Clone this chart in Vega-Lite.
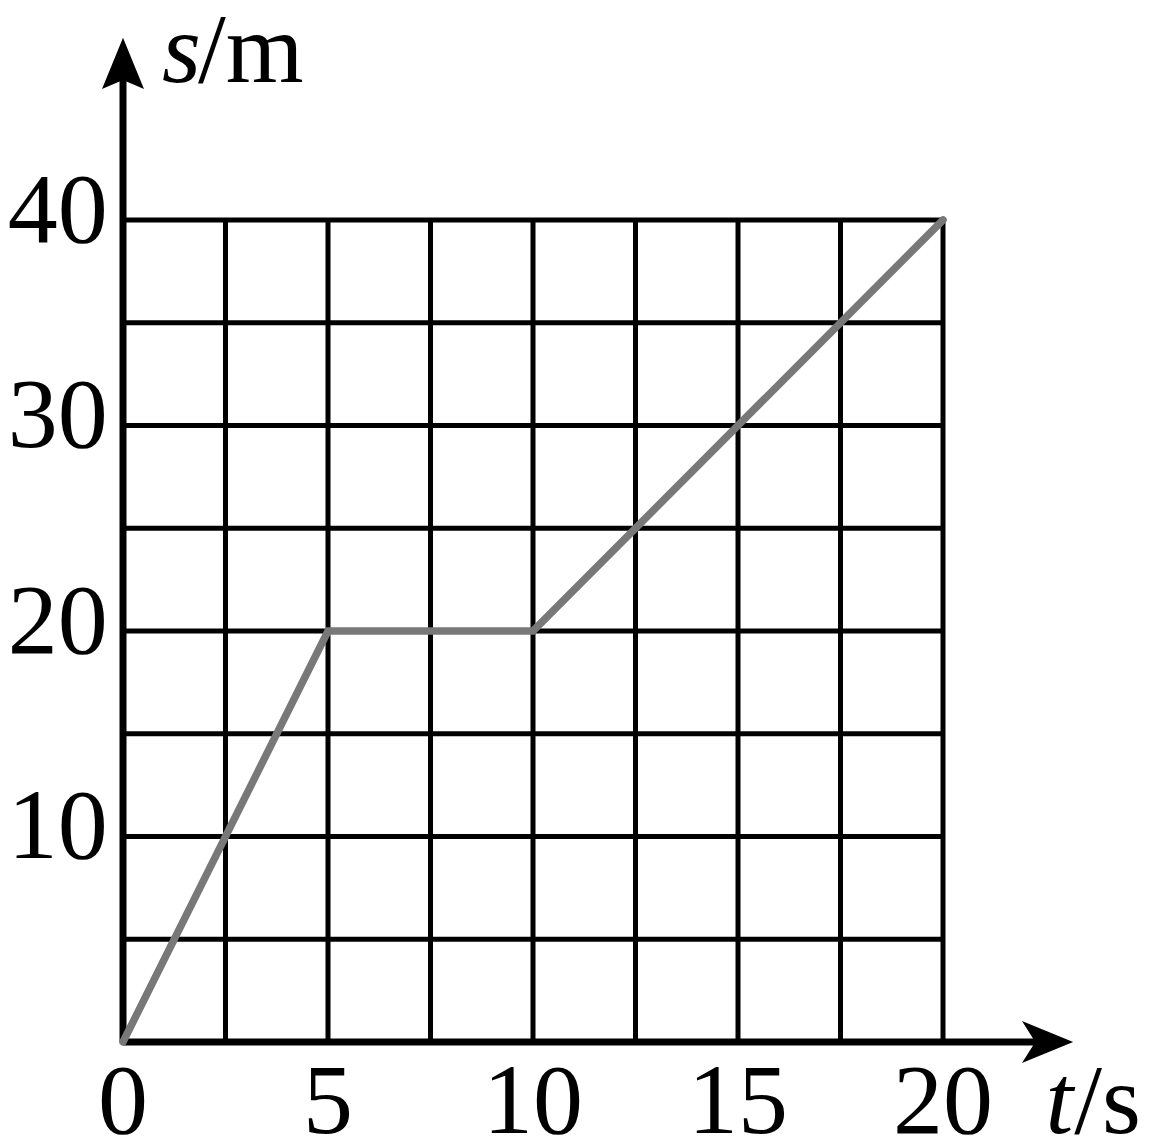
{
  "$schema": "https://vega.github.io/schema/vega-lite/v6.json",
  "width": 950,
  "height": 1004,
  "autosize": {"type": "none"},
  "padding": {"left": 123, "top": 38, "right": 77, "bottom": 106},
  "background": "white",
  "config": {"view": {"stroke": null}, "text": {"font": "'Liberation Serif', 'Times New Roman', Times, serif"}},
  "datasets": {
    "grid": [
      {"x": 2.5, "y": 0, "x2": 2.5, "y2": 40},
      {"x": 5, "y": 0, "x2": 5, "y2": 40},
      {"x": 7.5, "y": 0, "x2": 7.5, "y2": 40},
      {"x": 10, "y": 0, "x2": 10, "y2": 40},
      {"x": 12.5, "y": 0, "x2": 12.5, "y2": 40},
      {"x": 15, "y": 0, "x2": 15, "y2": 40},
      {"x": 17.5, "y": 0, "x2": 17.5, "y2": 40},
      {"x": 20, "y": 0, "x2": 20, "y2": 40},
      {"x": 0, "y": 5, "x2": 20, "y2": 5},
      {"x": 0, "y": 10, "x2": 20, "y2": 10},
      {"x": 0, "y": 15, "x2": 20, "y2": 15},
      {"x": 0, "y": 20, "x2": 20, "y2": 20},
      {"x": 0, "y": 25, "x2": 20, "y2": 25},
      {"x": 0, "y": 30, "x2": 20, "y2": 30},
      {"x": 0, "y": 35, "x2": 20, "y2": 35},
      {"x": 0, "y": 40, "x2": 20, "y2": 40}
    ],
    "axes": [
      {"x": 0, "y": 0, "x2": 22.7, "y2": 0},
      {"x": 0, "y": 0, "x2": 0, "y2": 47.4}
    ],
    "motion": [
      {"t": 0, "s": 0},
      {"t": 5, "s": 20},
      {"t": 10, "s": 20},
      {"t": 20, "s": 40}
    ],
    "xticks": [
      {"t": 0, "label": "0"},
      {"t": 5, "label": "5"},
      {"t": 10, "label": "10"},
      {"t": 15, "label": "15"},
      {"t": 20, "label": "20"}
    ],
    "yticks": [
      {"s": 10, "label": "10"},
      {"s": 20, "label": "20"},
      {"s": 30, "label": "30"},
      {"s": 40, "label": "40"}
    ],
    "titlesItalic": [
      {"x": 0.95, "y": 46.72, "label": "s"},
      {"x": 22.5, "y": -4.43, "label": "t"}
    ],
    "titlesRoman": [
      {"x": 1.83, "y": 46.72, "label": "/m"},
      {"x": 23.2, "y": -4.43, "label": "/s"}
    ]
  },
  "encoding": {
    "x": {"type": "quantitative", "scale": {"domain": [0, 23.1707], "nice": false, "zero": false}, "axis": null},
    "y": {"type": "quantitative", "scale": {"domain": [0, 48.856], "nice": false, "zero": false}, "axis": null}
  },
  "layer": [
    {
      "data": {"name": "grid"},
      "mark": {"type": "rule", "color": "black", "strokeWidth": 5},
      "encoding": {
        "x": {"field": "x", "type": "quantitative"},
        "y": {"field": "y", "type": "quantitative"},
        "x2": {"field": "x2"},
        "y2": {"field": "y2"}
      }
    },
    {
      "data": {"name": "axes"},
      "mark": {"type": "rule", "color": "black", "strokeWidth": 7},
      "encoding": {
        "x": {"field": "x", "type": "quantitative"},
        "y": {"field": "y", "type": "quantitative"},
        "x2": {"field": "x2"},
        "y2": {"field": "y2"}
      }
    },
    {
      "data": {"values": [{"x": 22.55, "y": 0}]},
      "mark": {"type": "point", "shape": "M1,0 L-1,-0.82 L-0.48,0 L-1,0.82 Z", "size": 2620, "filled": true, "color": "black", "opacity": 1, "strokeWidth": 0},
      "encoding": {
        "x": {"field": "x", "type": "quantitative"},
        "y": {"field": "y", "type": "quantitative"}
      }
    },
    {
      "data": {"values": [{"x": 0, "y": 47.62}]},
      "mark": {"type": "point", "shape": "M0,-1 L-0.82,1 L0,0.65 L0.82,1 Z", "size": 2620, "filled": true, "color": "black", "opacity": 1, "strokeWidth": 0},
      "encoding": {
        "x": {"field": "x", "type": "quantitative"},
        "y": {"field": "y", "type": "quantitative"}
      }
    },
    {
      "data": {"name": "motion"},
      "mark": {"type": "line", "color": "#787878", "strokeWidth": 7.5, "strokeCap": "round", "strokeJoin": "miter"},
      "encoding": {
        "x": {"field": "t", "type": "quantitative"},
        "y": {"field": "s", "type": "quantitative"}
      }
    },
    {
      "data": {"name": "xticks"},
      "mark": {"type": "text", "fontSize": 100, "align": "center", "baseline": "alphabetic", "color": "black"},
      "encoding": {
        "x": {"field": "t", "type": "quantitative"},
        "y": {"datum": -4.43},
        "text": {"field": "label"}
      }
    },
    {
      "data": {"name": "yticks"},
      "mark": {"type": "text", "fontSize": 100, "align": "right", "baseline": "alphabetic", "dy": 22, "color": "black"},
      "encoding": {
        "x": {"datum": -0.37},
        "y": {"field": "s", "type": "quantitative"},
        "text": {"field": "label"}
      }
    },
    {
      "data": {"name": "titlesItalic"},
      "mark": {"type": "text", "fontSize": 100, "fontStyle": "italic", "align": "left", "baseline": "alphabetic", "color": "black"},
      "encoding": {
        "x": {"field": "x", "type": "quantitative"},
        "y": {"field": "y", "type": "quantitative"},
        "text": {"field": "label"}
      }
    },
    {
      "data": {"name": "titlesRoman"},
      "mark": {"type": "text", "fontSize": 100, "align": "left", "baseline": "alphabetic", "color": "black"},
      "encoding": {
        "x": {"field": "x", "type": "quantitative"},
        "y": {"field": "y", "type": "quantitative"},
        "text": {"field": "label"}
      }
    }
  ]
}
